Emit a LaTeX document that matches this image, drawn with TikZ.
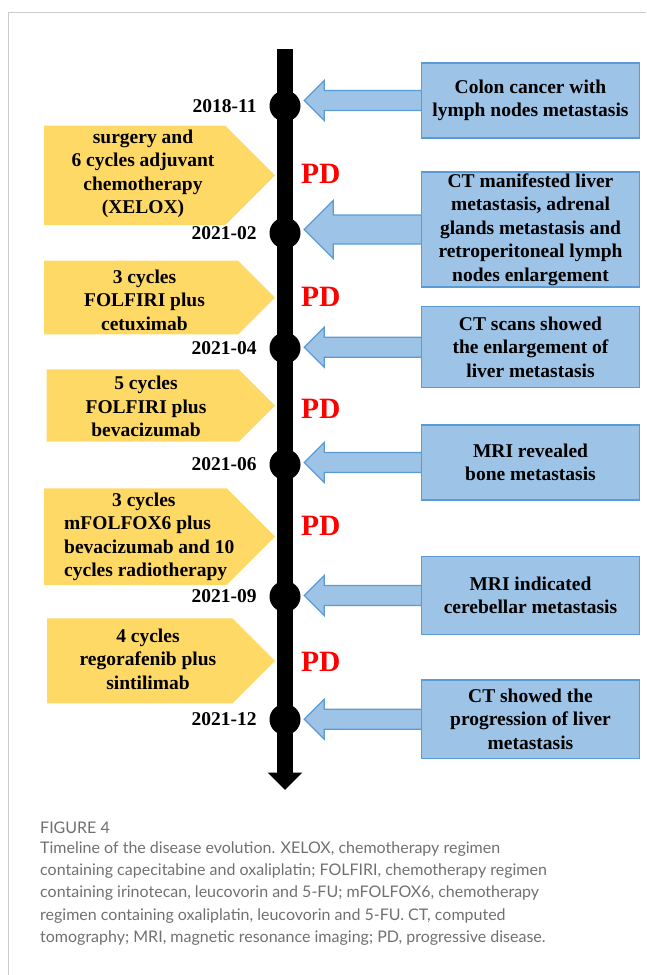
\documentclass[tikz,border=0pt]{standalone}
\usepackage{fontspec}
\setmainfont{Liberation Serif}
\newfontfamily\capfont{Lato}
\usetikzlibrary{positioning,calc,arrows.meta}

\definecolor{goldfill}{HTML}{FFD966}
\definecolor{bluefill}{HTML}{9DC3E6}
\definecolor{blueline}{HTML}{5B9BD5}
\definecolor{capgray}{HTML}{707070}
\definecolor{framegray}{HTML}{CCCCCC}

\begin{document}
\begin{tikzpicture}[x = 1pt, y = -1pt, every node/.style = {inner sep = 0pt},
	txt/.style = {font = \rmfamily\bfseries\fontsize{19.5}{23.4}\selectfont, align = center},
	tdot/.style = {shape = circle, fill = black, minimum size = 31pt},
	event/.style = {txt, draw = blueline, fill = bluefill, line width = 1.2pt, minimum width = 218pt},
	barrow/.style = {draw = blueline, fill = bluefill, line width = 1.2pt},
	pd/.style = {font = \rmfamily\bfseries\fontsize{29.5}{30}\selectfont, text = red, anchor = base west},
	date/.style = {font = \rmfamily\bfseries\fontsize{19.5}{23.4}\selectfont},
	capnote/.style = {font = \capfont\fontsize{16}{22.2}\selectfont, text = capgray, align = left}]
	\useasboundingbox (0,0) rectangle (646,975);
	%frame
	\draw[framegray, line width = 1pt] (8.5,975) -- (8.5,12) -- (646,12);
	%time axis
	\coordinate (top) at (285,49);
	\coordinate (end) at (285,790);
	\draw[line width = 16.7pt, -{Triangle[length = 17.3pt, width = 33.4pt]}] (top) -- (end);
	\node[tdot] (d1) at (285,106) {};
	\node[tdot] (d2) at (285,233) {};
	\node[tdot] (d3) at (285,348) {};
	\node[tdot] (d4) at (285,464.5) {};
	\node[tdot] (d5) at (285,596.5) {};
	\node[tdot] (d6) at (285,719.5) {};
	\node[date, left = 12.5pt of d1] (t1) {2018-11};
	\node[date, left = 12.5pt of d2] (t2) {2021-02};
	\node[date, left = 12.5pt of d3] (t3) {2021-04};
	\node[date, left = 12.5pt of d4] (t4) {2021-06};
	\node[date, left = 12.5pt of d5] (t5) {2021-09};
	\node[date, left = 12.5pt of d6] (t6) {2021-12};
	%treatments
	\foreach \t/\b/\l in {125.7/225/44, 260.7/334.3/44, 369.3/441.7/46.5, 488.3/585/44, 618.3/703.3/47}
		\fill[goldfill] (\l,\t) -- ({275-(\b-\t)/2},\t) -- (275,{(\t+\b)/2}) -- ({275-(\b-\t)/2},\b) -- (\l,\b) -- cycle;
	\node[txt] (c1) at (143,174) {surgery and\\6 cycles adjuvant\\chemotherapy\\(XELOX)};
	\node[txt] (c2) at (144.5,300) {3 cycles\\FOLFIRI plus\\cetuximab};
	\node[txt] (c3) at (146,406.7) {5 cycles\\FOLFIRI plus\\bevacizumab};
	\node[txt, align = left, anchor = west] (c4) at (64,536.8) {\hspace*{48pt}3 cycles\\mFOLFOX6 plus\\bevacizumab and 10\\cycles radiotherapy};
	\node[txt] (c5) at (148,659.2) {4 cycles\\regorafenib plus\\sintilimab};
	\node[pd] (p1) at (301,183) {PD};
	\node[pd] (p2) at (301,306) {PD};
	\node[pd] (p3) at (301,418) {PD};
	\node[pd] (p4) at (301,535.7) {PD};
	\node[pd] (p5) at (301,671) {PD};
	%findings
	\node[event, minimum height = 75pt] (b1) at (530.5,100.5) {Colon cancer with\\lymph nodes metastasis};
	\node[event, minimum height = 115pt] (b2) at (530.5,229.5) {CT manifested liver\\metastasis, adrenal\\glands metastasis and\\retroperitoneal lymph\\nodes enlargement};
	\node[event, minimum height = 81pt] (b3) at (530.5,347.2) {CT scans showed\\the enlargement of\\liver metastasis};
	\node[event, minimum height = 75pt] (b4) at (530.5,462.5) {MRI revealed\\bone metastasis};
	\node[event, minimum height = 77.6pt] (b5) at (530.5,595.5) {MRI indicated\\cerebellar metastasis};
	\node[event, minimum height = 78.3pt] (b6) at (530.5,719.2) {CT showed the\\progression of liver\\metastasis};
	\foreach \i/\s in {1/10, 2/14.5, 3/10, 4/10, 5/10, 6/10}
		\draw[barrow] let \p1 = (b\i.west), \p2 = (d\i.east) in
			(\x1,{\y1+\s*1pt}) -- ({\x2+3.5pt+2*\s*1pt},{\y1+\s*1pt}) -- ({\x2+3.5pt+2*\s*1pt},{\y1+2*\s*1pt})
			-- ({\x2+3.5pt},\y1) -- ({\x2+3.5pt+2*\s*1pt},{\y1-2*\s*1pt}) -- ({\x2+3.5pt+2*\s*1pt},{\y1-\s*1pt}) -- (\x1,{\y1-\s*1pt});
	%caption
	\node[capnote, anchor = base west] (fig) at (40,833) {FIGURE 4};
	\node[capnote, anchor = north west] (note) at (40,841.5) {Timeline of the disease evolution. XELOX, chemotherapy regimen\\containing capecitabine and oxaliplatin; FOLFIRI, chemotherapy regimen\\containing irinotecan, leucovorin and 5-FU; mFOLFOX6, chemotherapy\\regimen containing oxaliplatin, leucovorin and 5-FU. CT, computed\\tomography; MRI, magnetic resonance imaging; PD, progressive disease.};
\end{tikzpicture}
\end{document}
